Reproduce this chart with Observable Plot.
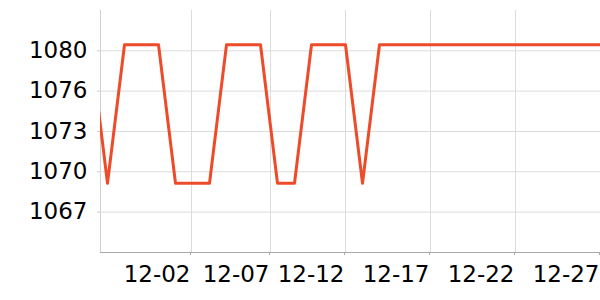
<!DOCTYPE html>
<html><head>
<meta charset="utf-8">
<script src="https://cdn.jsdelivr.net/npm/d3@7"></script>
<script src="https://cdn.jsdelivr.net/npm/@observablehq/plot@0.6"></script>
<style>body{margin:0;background:#fff}</style>
</head><body><div id="chart"></div>
<script>
const dates = ["2023-11-27","2023-11-28","2023-11-29","2023-11-30","2023-12-01","2023-12-02","2023-12-03","2023-12-04","2023-12-05","2023-12-06","2023-12-07","2023-12-08","2023-12-09","2023-12-10","2023-12-11","2023-12-12","2023-12-13","2023-12-14","2023-12-15","2023-12-16","2023-12-17","2023-12-18","2023-12-19","2023-12-20","2023-12-21","2023-12-22","2023-12-23","2023-12-24","2023-12-25","2023-12-26","2023-12-27"];
const values = [1080.5,1069.05,1080.5,1080.5,1080.5,1069.05,1069.05,1069.05,1080.5,1080.5,1080.5,1069.05,1069.05,1080.5,1080.5,1080.5,1069.05,1080.5,1080.5,1080.5,1080.5,1080.5,1080.5,1080.5,1080.5,1080.5,1080.5,1080.5,1080.5,1080.5,1080.5];
const xTicks = ["2023-12-02T22:35Z","2023-12-07T14:07Z","2023-12-12","2023-12-17","2023-12-22","2023-12-27"];
const xDomain = ["2023-11-27T14:07Z","2023-12-27"];
const yTicks = [1066.67,1070,1073.33,1076.67,1080];
const yLabels = ["1067","1070","1073","1076","1080"];
const yDomain = [1063.33,1083.33];

const data = dates.map((d,i)=>({date:new Date(d), value:values[i]}));
const xt = xTicks.map(d=>new Date(d));
const xd = xDomain.map(d=>new Date(d));

const chart = Plot.plot({
  width:600, height:300, marginTop:10, marginBottom:48, marginLeft:100, marginRight:0,
  style:{fontFamily:"DejaVu Sans", fontSize:"23px", color:"#000", background:"#fff"},
  x:{type:"utc", domain:xd, label:null},
  y:{domain:yDomain, label:null},
  marks:[
    Plot.gridX(xt, {stroke:"#dcdcdc", strokeOpacity:1}),
    Plot.gridY(yTicks, {stroke:"#dcdcdc", strokeOpacity:1}),
    Plot.ruleX([xd[0]], {stroke:"#d0d0d0"}),
    Plot.axisY(yTicks, {label:null, tickSize:3, tickPadding:10, tickFormat:d=>yLabels[yTicks.indexOf(d)], stroke:"#ccc", fill:"#000"}),
    Plot.axisX(xt, {label:null, tickSize:3, tickPadding:10, tickFormat:d3.utcFormat("%m-%d"), textAnchor:"end", dx:-1, stroke:"#aaa", fill:"#000"}),
    Plot.ruleY([yDomain[0]], {stroke:"#aaa"}),
    Plot.line(data, {x:"date", y:"value", stroke:"#ee4b2b", strokeWidth:3, clip:true})
  ]
});
document.getElementById("chart").appendChild(chart);
</script>
</body></html>
